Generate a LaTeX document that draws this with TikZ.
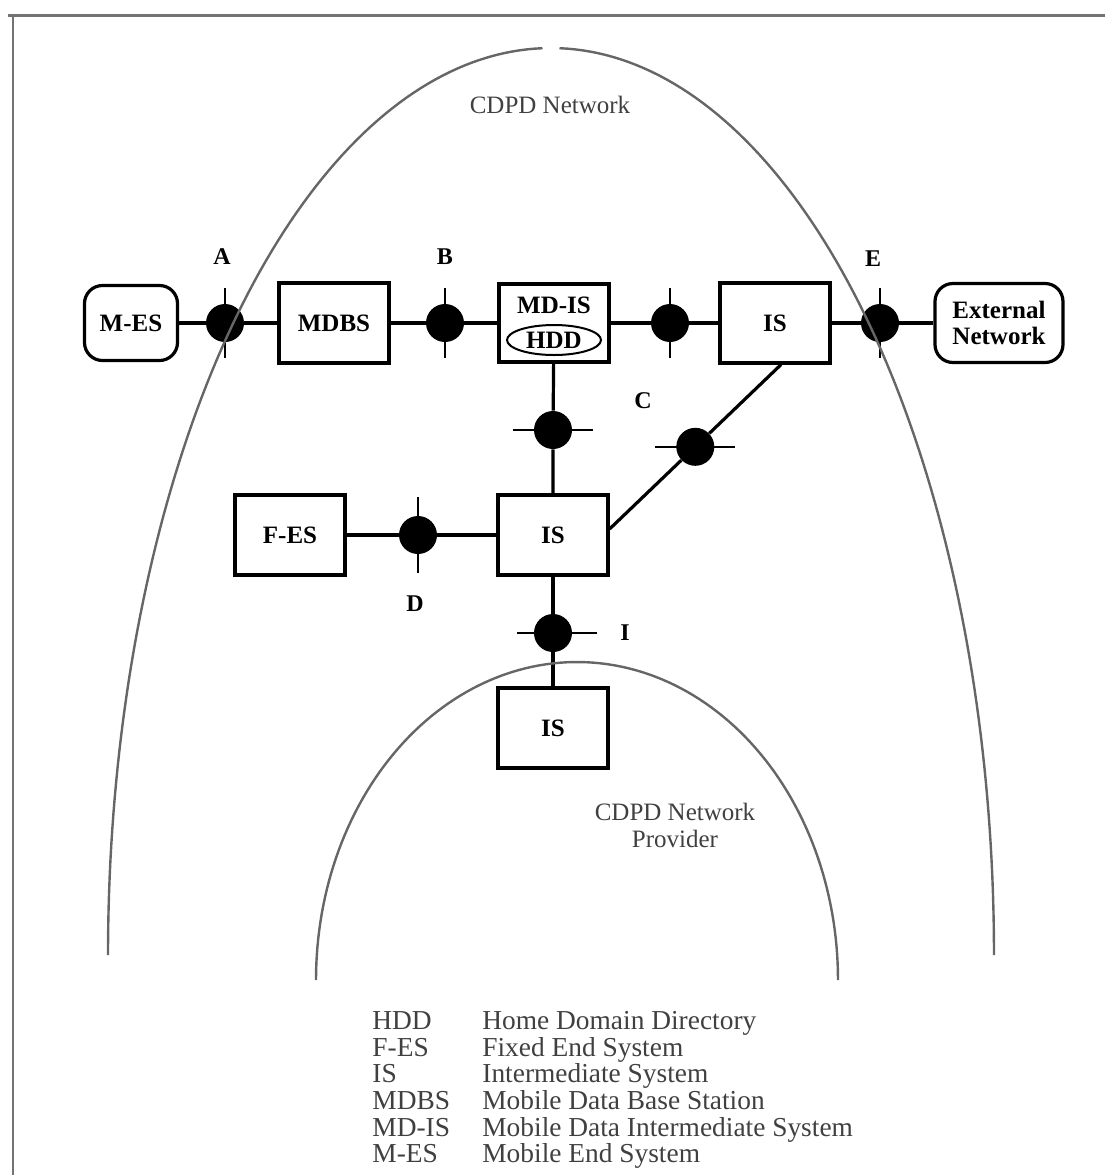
\documentclass[tikz,border=0pt]{standalone}
\usepackage{fontspec}
\setmainfont{Liberation Serif}
\usetikzlibrary{shapes.geometric,calc}

\tikzset{
  box/.style={draw, line width=1.6pt, inner sep=0pt, minimum width=55pt, minimum height=40pt,
    font=\fontsize{12.5}{13}\selectfont\bfseries},
  endsys/.style={box, rounded corners=9pt, align=center},
  hdd/.style={ellipse, draw, line width=1pt, inner sep=0pt, minimum width=47pt, minimum height=15pt,
    font=\fontsize{12.5}{13}\selectfont\bfseries},
  jn/.style={circle, fill=black, inner sep=0pt, minimum size=19pt},
  link/.style={line width=1.6pt},
  tick/.style={line width=1.2pt},
  ifname/.style={font=\fontsize{12}{13}\selectfont\bfseries},
  arch/.style={draw=black!60, line width=1.2pt},
  areatext/.style={text=black!75, align=center, font=\fontsize{12.5}{13.5}\selectfont},
}

\begin{document}
\begin{tikzpicture}[x=0.5pt, y=-0.5pt]
  \useasboundingbox (0,0) rectangle (1105,1175);

  % frame
  \draw[black!55, line width=1.5pt] (8,15) -- (1105,15);
  \draw[black!55, line width=1.2pt] (13,15) -- (13,1175);

  % systems
  \node[endsys, minimum width=46.5pt, minimum height=37.5pt] (mes) at (131,323) {M-ES};
  \node[box] (mdbs) at (334,323) {MDBS};
  \node[box, minimum height=39pt] (mdis) at (554,323) {};
  \node[font=\fontsize{12.5}{13}\selectfont\bfseries] (mdisname) at (554,305) {MD-IS};
  \node[hdd] (hddir) at (554,340) {HDD};
  \node[box] (isa) at (775,323) {IS};
  \node[endsys, minimum width=64pt, minimum height=39.5pt] (ext) at (999,323) {External\\Network};
  \node[box] (isb) at (553,535) {IS};
  \node[box] (fes) at (290,535) {F-ES};
  \node[box] (isc) at (553,728) {IS};

  % interface points
  \node[jn] (jA) at (225,323) {};
  \node[jn] (jB) at (445,323) {};
  \node[jn] (jX) at (670,323) {};
  \node[jn] (jE) at (880,323) {};
  \node[jn] (jC) at (553,430) {};
  \node[jn] (jD) at (418,535) {};
  \node[jn] (jI) at (553,633) {};
  \coordinate (dgA) at ([yshift=3pt]isb.east);
  \coordinate (dgB) at ([xshift=3pt]isa.south);
  \node[jn] (jCd) at ($(dgA)!0.5!(dgB)$) {};

  % links
  \draw[link] (mes) -- (jA) -- (mdbs) -- (jB) -- (mdis) -- (jX) -- (isa) -- (jE) -- (ext);
  \draw[link] (mdis) -- (jC) -- (isb);
  \draw[link] (dgA) -- (jCd) -- (dgB);
  \draw[link] (fes) -- (jD) -- (isb);
  \draw[link] (isb) -- (jI) -- (isc);

  % ticks
  \draw[tick] ([yshift=17.5pt]jA.center) -- ([yshift=-17.5pt]jA.center);
  \draw[tick] ([yshift=17.5pt]jB.center) -- ([yshift=-17.5pt]jB.center);
  \draw[tick] ([yshift=17.5pt]jX.center) -- ([yshift=-17.5pt]jX.center);
  \draw[tick] ([yshift=17.5pt]jE.center) -- ([yshift=-17.5pt]jE.center);
  \draw[tick] ([yshift=19pt]jD.center) -- ([yshift=-19pt]jD.center);
  \draw[tick] ([xshift=-20pt]jC.center) -- ([xshift=20pt]jC.center);
  \draw[tick] ([xshift=-20pt]jCd.center) -- ([xshift=20pt]jCd.center);
  \draw[tick] ([xshift=-18pt]jI.center) -- ([xshift=22pt]jI.center);

  % interface names
  \node[ifname] (lA) at (222,257) {A};
  \node[ifname] (lB) at (445,257) {B};
  \node[ifname] (lE) at (873,259) {E};
  \node[ifname] (lC) at (643,401) {C};
  \node[ifname] (lD) at (415,604) {D};
  \node[ifname] (lI) at (625,633) {I};

  % network borders
  \draw[arch] plot[domain=180:268.9, samples=90] ({551+443*cos(\x)}, {955+907*sin(\x)});
  \draw[arch] plot[domain=271.1:360, samples=90] ({551+443*cos(\x)}, {955+907*sin(\x)});
  \draw[arch] plot[domain=180:360, samples=120] ({577+261*cos(\x)}, {980+318*sin(\x)});

  \node[areatext] (cdpd) at (550,105) {CDPD Network};
  \node[areatext] (prov) at (675,825) {CDPD Network\\Provider};

  % legend
  \node[anchor=north west, inner sep=0pt, text=black!75] (legend) at (372,1011)
    {\fontsize{13.7}{12.75}\selectfont
     \begin{tabular}{@{}p{55pt}@{}l@{}}
       HDD & Home Domain Directory\\
       F-ES & Fixed End System\\
       IS & Intermediate System\\
       MDBS & Mobile Data Base Station\\
       MD-IS & Mobile Data Intermediate System\\
       M-ES & Mobile End System
     \end{tabular}};

\end{tikzpicture}
\end{document}
